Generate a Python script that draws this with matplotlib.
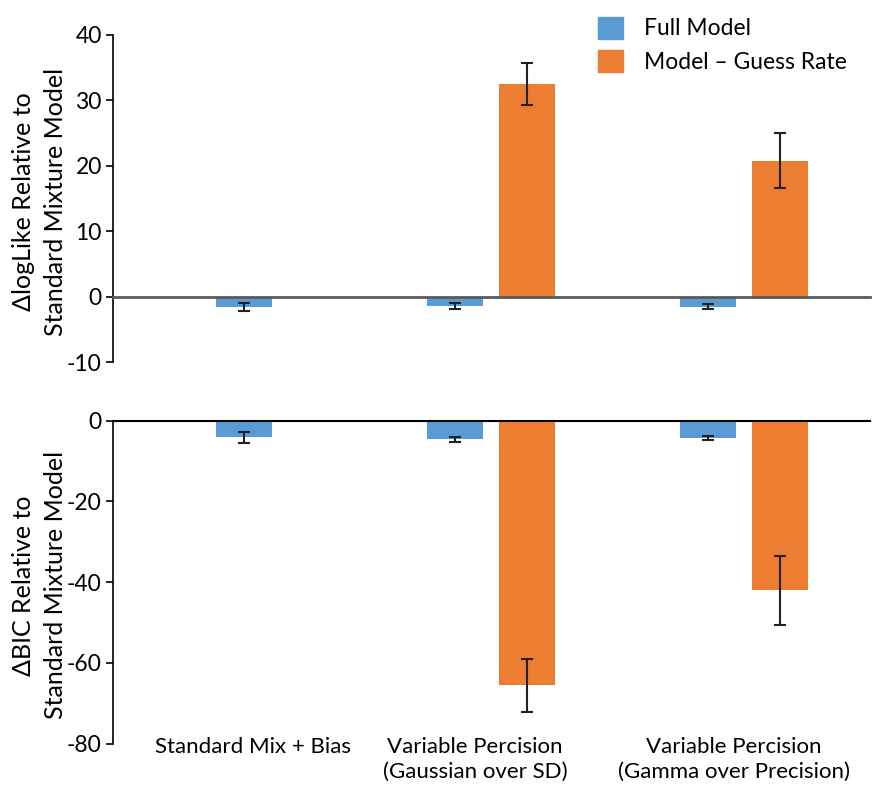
import numpy as np
import matplotlib
matplotlib.use('Agg')
import matplotlib.pyplot as plt
from matplotlib.patches import Patch

plt.rcParams['font.family'] = ['Lato', 'DejaVu Sans']
plt.rcParams['axes.unicode_minus'] = False

categories = ['Standard Mix + Bias',
              'Variable Percision\n(Gaussian over SD)',
              'Variable Percision\n(Gamma over Precision)']
series = ['Full Model', 'Model \u2013 Guess Rate']

# delta log likelihood (top panel)
loglike_full = [-1.5, -1.4, -1.5]
loglike_full_err = [0.6, 0.4, 0.4]
loglike_guess = [np.nan, 32.5, 20.8]
loglike_guess_err = [np.nan, 3.2, 4.2]

# delta BIC (bottom panel)
bic_full = [-4.1, -4.6, -4.2]
bic_full_err = [1.3, 0.6, 0.5]
bic_guess = [np.nan, -65.6, -42.0]
bic_guess_err = [np.nan, 6.5, 8.5]

blue = '#5B9BD5'
orange = '#ED7D31'
fs = 16.5

fig = plt.figure(figsize=(8.75, 7.91), dpi=100)
ax1 = fig.add_axes([0.129, 0.542, 0.865, 0.414])
ax2 = fig.add_axes([0.129, 0.060, 0.865, 0.408])

x = np.arange(len(categories))
w = 0.222
off = 0.143
label_nudge = np.array([0.055, -0.065, -0.04])


def draw(ax, full, full_err, guess, guess_err):
    full = np.array(full)
    guess = np.array(guess)
    has_guess = ~np.isnan(guess)
    xb = np.where(has_guess, x - off, x + 0.02)
    ax.bar(xb, full, w, color=blue, zorder=2)
    ax.errorbar(xb, full, yerr=full_err, fmt='none', ecolor='#222222',
                elinewidth=1.5, capsize=4, capthick=1.5, zorder=3)
    ax.bar(x[has_guess] + off, guess[has_guess], w, color=orange, zorder=2)
    ax.errorbar(x[has_guess] + off, guess[has_guess],
                yerr=np.array(guess_err)[has_guess], fmt='none',
                ecolor='#222222', elinewidth=1.5, capsize=4, capthick=1.5,
                zorder=3)
    ax.set_xlim(-0.5, 2.5)
    ax.spines['right'].set_visible(False)
    ax.tick_params(axis='y', labelsize=fs, length=5, width=1.2,
                   direction='out', pad=3)
    ax.spines['left'].set_linewidth(1.2)


draw(ax1, loglike_full, loglike_full_err, loglike_guess, loglike_guess_err)
ax1.set_ylim(-10, 40)
ax1.set_yticks([-10, 0, 10, 20, 30, 40])
ax1.spines['top'].set_visible(False)
ax1.spines['bottom'].set_position(('data', 0))
ax1.spines['bottom'].set_color('#595959')
ax1.spines['bottom'].set_linewidth(2)
ax1.spines['bottom'].set_zorder(4)
ax1.set_xticks([])
ax1.set_ylabel('\u0394logLike Relative to\nStandard Mixture Model',
               fontsize=18, linespacing=1.45)
ax1.yaxis.set_label_coords(-0.061, 0.49)

draw(ax2, bic_full, bic_full_err, bic_guess, bic_guess_err)
ax2.set_ylim(-80, 0)
ax2.set_yticks([-80, -60, -40, -20, 0])
ax2.spines['bottom'].set_visible(False)
ax2.spines['top'].set_linewidth(1.5)
ax2.spines['top'].set_zorder(4)
ax2.set_xticks(x + label_nudge)
ax2.set_xticklabels(categories, fontsize=16, linespacing=1.3)
ax2.tick_params(axis='x', length=0, pad=-5)
ax2.set_ylabel('\u0394BIC Relative to\nStandard Mixture Model',
               fontsize=18, linespacing=1.45)
ax2.yaxis.set_label_coords(-0.061, 0.49)

handles = [Patch(color=blue), Patch(color=orange)]
fig.legend(handles, series, loc='upper left', bbox_to_anchor=(0.66, 1.005),
           frameon=False, fontsize=fs, handlelength=1.1, handleheight=1.1,
           handletextpad=0.9, labelspacing=0.45)

fig.savefig('out.png', dpi=100)
